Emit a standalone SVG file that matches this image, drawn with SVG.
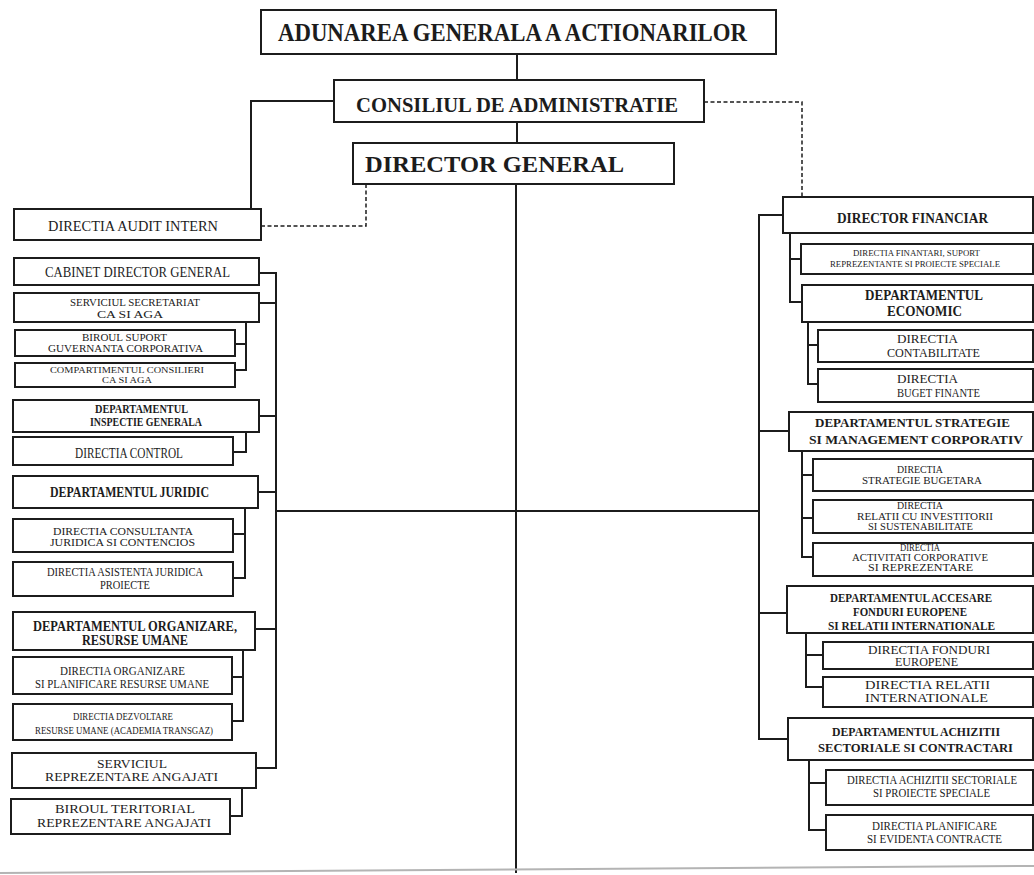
<svg xmlns="http://www.w3.org/2000/svg" width="1034" height="875" viewBox="0 0 1034 875">
<style>
.b{fill:#fff;stroke:#1c1c1c;stroke-width:2}
.ln{fill:none;stroke:#1c1c1c;stroke-width:2}
.ds{fill:none;stroke:#1c1c1c;stroke-width:1.5;stroke-dasharray:4 2.5}
.scan{fill:none;stroke:#b4b4b4;stroke-width:2}
text{font-family:"Liberation Serif","Times New Roman",serif;fill:#1c1c1c;text-anchor:middle}
.bd{font-weight:bold}
</style>
<rect x="0" y="0" width="1034" height="875" fill="#fff"/>
<g id="connectors">
<path class="ln" d="M517 54V80M517 122V143M516 184V873M276 511H759"/>
<path class="ln" d="M334 101H251V209"/>
<path class="ds" d="M261 226H366V184"/>
<path class="ds" d="M704 102H802V197"/>
<path class="ln" d="M259 273H276V768H256M259 303H276M259 416H276M258 492H276M255 629H276"/>
<path class="ln" d="M259 322H246V370H235M235 344H246"/>
<path class="ln" d="M246 432V452H233"/>
<path class="ln" d="M245 508V578H233M233 534H245"/>
<path class="ln" d="M243 650V721H232M232 677H243"/>
<path class="ln" d="M242 788V816H230"/>
<path class="ln" d="M783 215H759V739H788M759 431H789M759 613H787"/>
<path class="ln" d="M790 233V302H802M790 259H801"/>
<path class="ln" d="M808 322V384H818M808 345H818"/>
<path class="ln" d="M802 451V557H813M802 475H813M802 518H813"/>
<path class="ln" d="M806 633V687H823M806 655H823"/>
<path class="ln" d="M809 760V830H826M809 783H826"/>
</g>
<path class="scan" d="M0 873L1034 866"/>
<g id="aga"><rect class="b" x="261" y="10" width="515" height="44"/><text class="bd" x="512.5" y="41" font-size="25" textLength="469" lengthAdjust="spacingAndGlyphs">ADUNAREA GENERALA A ACTIONARILOR</text></g>
<g id="consiliu"><rect class="b" x="334" y="80" width="370" height="42"/><text class="bd" x="517" y="112" font-size="22" textLength="322" lengthAdjust="spacingAndGlyphs">CONSILIUL DE ADMINISTRATIE</text></g>
<g id="dg"><rect class="b" x="353" y="143" width="321" height="41"/><text class="bd" x="494.5" y="172" font-size="22.5" textLength="259" lengthAdjust="spacingAndGlyphs">DIRECTOR GENERAL</text></g>
<g id="audit"><rect class="b" x="14" y="209" width="247" height="31"/><text x="133" y="231" font-size="14" textLength="170" lengthAdjust="spacingAndGlyphs">DIRECTIA AUDIT INTERN</text></g>
<g id="cabinet"><rect class="b" x="14" y="258" width="245" height="27"/><text x="137.5" y="277" font-size="14" textLength="185" lengthAdjust="spacingAndGlyphs">CABINET DIRECTOR GENERAL</text></g>
<g id="secretariat"><rect class="b" x="14" y="293" width="245" height="29"/><text x="135" y="306" font-size="11" textLength="130" lengthAdjust="spacingAndGlyphs">SERVICIUL SECRETARIAT</text><text x="130" y="318" font-size="11" textLength="66" lengthAdjust="spacingAndGlyphs">CA SI AGA</text></g>
<g id="biroul-suport"><rect class="b" x="15" y="330" width="220" height="26"/><text x="124.5" y="341" font-size="10" textLength="85" lengthAdjust="spacingAndGlyphs">BIROUL SUPORT</text><text x="125.5" y="352" font-size="10" textLength="155" lengthAdjust="spacingAndGlyphs">GUVERNANTA CORPORATIVA</text></g>
<g id="consilieri"><rect class="b" x="15" y="363" width="220" height="24"/><text x="127" y="373" font-size="9" textLength="154" lengthAdjust="spacingAndGlyphs">COMPARTIMENTUL CONSILIERI</text><text x="127" y="383" font-size="9" textLength="50" lengthAdjust="spacingAndGlyphs">CA SI AGA</text></g>
<g id="inspectie"><rect class="b" x="13" y="400" width="246" height="32"/><text class="bd" x="141.5" y="413" font-size="12" textLength="93" lengthAdjust="spacingAndGlyphs">DEPARTAMENTUL</text><text class="bd" x="146" y="426" font-size="12" textLength="112" lengthAdjust="spacingAndGlyphs">INSPECTIE GENERALA</text></g>
<g id="control"><rect class="b" x="13" y="437" width="220" height="28"/><text x="129" y="458" font-size="14" textLength="108" lengthAdjust="spacingAndGlyphs">DIRECTIA CONTROL</text></g>
<g id="juridic"><rect class="b" x="13" y="476" width="245" height="32"/><text class="bd" x="129.5" y="497" font-size="14" textLength="159" lengthAdjust="spacingAndGlyphs">DEPARTAMENTUL JURIDIC</text></g>
<g id="consultanta"><rect class="b" x="13" y="519" width="220" height="33"/><text x="123" y="535" font-size="11" textLength="140" lengthAdjust="spacingAndGlyphs">DIRECTIA CONSULTANTA</text><text x="122.5" y="546" font-size="11" textLength="145" lengthAdjust="spacingAndGlyphs">JURIDICA SI CONTENCIOS</text></g>
<g id="asistenta"><rect class="b" x="13" y="562" width="220" height="34"/><text x="125" y="576" font-size="11.5" textLength="156" lengthAdjust="spacingAndGlyphs">DIRECTIA ASISTENTA JURIDICA</text><text x="125" y="589" font-size="11.5" textLength="50" lengthAdjust="spacingAndGlyphs">PROIECTE</text></g>
<g id="organizare"><rect class="b" x="13" y="612" width="242" height="38"/><text class="bd" x="135" y="631" font-size="15" textLength="204" lengthAdjust="spacingAndGlyphs">DEPARTAMENTUL ORGANIZARE,</text><text class="bd" x="135" y="645" font-size="15" textLength="106" lengthAdjust="spacingAndGlyphs">RESURSE UMANE</text></g>
<g id="dir-organizare"><rect class="b" x="13" y="657" width="219" height="37"/><text x="122.5" y="675" font-size="11.5" textLength="125" lengthAdjust="spacingAndGlyphs">DIRECTIA ORGANIZARE</text><text x="122" y="688" font-size="11.5" textLength="174" lengthAdjust="spacingAndGlyphs">SI PLANIFICARE RESURSE UMANE</text></g>
<g id="dezvoltare"><rect class="b" x="13" y="704" width="219" height="36"/><text x="123" y="720" font-size="11" textLength="100" lengthAdjust="spacingAndGlyphs">DIRECTIA DEZVOLTARE</text><text x="124" y="734" font-size="11" textLength="178" lengthAdjust="spacingAndGlyphs">RESURSE UMANE (ACADEMIA TRANSGAZ)</text></g>
<g id="serviciul-repr"><rect class="b" x="12" y="753" width="244" height="35"/><text x="132" y="768" font-size="13" textLength="70" lengthAdjust="spacingAndGlyphs">SERVICIUL</text><text x="131.5" y="781" font-size="13" textLength="173" lengthAdjust="spacingAndGlyphs">REPREZENTARE ANGAJATI</text></g>
<g id="biroul-teritorial"><rect class="b" x="11" y="799" width="219" height="35"/><text x="125" y="813" font-size="13" textLength="140" lengthAdjust="spacingAndGlyphs">BIROUL TERITORIAL</text><text x="124" y="827" font-size="13" textLength="174" lengthAdjust="spacingAndGlyphs">REPREZENTARE ANGAJATI</text></g>
<g id="df"><rect class="b" x="783" y="197" width="250" height="36"/><text class="bd" x="912.5" y="223" font-size="15" textLength="151" lengthAdjust="spacingAndGlyphs">DIRECTOR FINANCIAR</text></g>
<g id="finantari"><rect class="b" x="801" y="244" width="232" height="30"/><text x="916.5" y="256" font-size="9" textLength="127" lengthAdjust="spacingAndGlyphs">DIRECTIA FINANTARI, SUPORT</text><text x="915" y="267" font-size="9" textLength="170" lengthAdjust="spacingAndGlyphs">REPREZENTANTE SI PROIECTE SPECIALE</text></g>
<g id="economic"><rect class="b" x="802" y="285" width="231" height="37"/><text class="bd" x="924" y="300" font-size="15" textLength="118" lengthAdjust="spacingAndGlyphs">DEPARTAMENTUL</text><text class="bd" x="924.5" y="316" font-size="15" textLength="75" lengthAdjust="spacingAndGlyphs">ECONOMIC</text></g>
<g id="contabilitate"><rect class="b" x="818" y="330" width="215" height="32"/><text x="927.5" y="343" font-size="12.5" textLength="61" lengthAdjust="spacingAndGlyphs">DIRECTIA</text><text x="933.5" y="357" font-size="12.5" textLength="93" lengthAdjust="spacingAndGlyphs">CONTABILITATE</text></g>
<g id="buget"><rect class="b" x="818" y="369" width="215" height="33"/><text x="927.5" y="383" font-size="12.5" textLength="61" lengthAdjust="spacingAndGlyphs">DIRECTIA</text><text x="938.5" y="397" font-size="12.5" textLength="83" lengthAdjust="spacingAndGlyphs">BUGET FINANTE</text></g>
<g id="strategie"><rect class="b" x="789" y="412" width="244" height="39"/><text class="bd" x="912.5" y="427" font-size="12.5" textLength="195" lengthAdjust="spacingAndGlyphs">DEPARTAMENTUL STRATEGIE</text><text class="bd" x="916" y="444" font-size="12.5" textLength="214" lengthAdjust="spacingAndGlyphs">SI MANAGEMENT CORPORATIV</text></g>
<g id="strategie-bugetara"><rect class="b" x="813" y="459" width="220" height="32"/><text x="920" y="473" font-size="10" textLength="46" lengthAdjust="spacingAndGlyphs">DIRECTIA</text><text x="922" y="484" font-size="10" textLength="120" lengthAdjust="spacingAndGlyphs">STRATEGIE BUGETARA</text></g>
<g id="investitori"><rect class="b" x="813" y="500" width="220" height="33"/><text x="920" y="509" font-size="10" textLength="46" lengthAdjust="spacingAndGlyphs">DIRECTIA</text><text x="925" y="519.5" font-size="10" textLength="136" lengthAdjust="spacingAndGlyphs">RELATII CU INVESTITORII</text><text x="920.5" y="530" font-size="10" textLength="105" lengthAdjust="spacingAndGlyphs">SI SUSTENABILITATE</text></g>
<g id="activitati"><rect class="b" x="813" y="543" width="220" height="33"/><text x="920" y="551" font-size="9.5" textLength="40" lengthAdjust="spacingAndGlyphs">DIRECTIA</text><text x="920" y="561" font-size="9.5" textLength="136" lengthAdjust="spacingAndGlyphs">ACTIVITATI CORPORATIVE</text><text x="920.5" y="571" font-size="9.5" textLength="105" lengthAdjust="spacingAndGlyphs">SI REPREZENTARE</text></g>
<g id="accesare"><rect class="b" x="787" y="586" width="246" height="47"/><text class="bd" x="911" y="602" font-size="12.5" textLength="162" lengthAdjust="spacingAndGlyphs">DEPARTAMENTUL ACCESARE</text><text class="bd" x="910" y="616" font-size="12.5" textLength="114" lengthAdjust="spacingAndGlyphs">FONDURI EUROPENE</text><text class="bd" x="911.5" y="630" font-size="12.5" textLength="167" lengthAdjust="spacingAndGlyphs">SI RELATII INTERNATIONALE</text></g>
<g id="fonduri"><rect class="b" x="823" y="642" width="210" height="27"/><text x="929" y="654" font-size="12" textLength="122" lengthAdjust="spacingAndGlyphs">DIRECTIA FONDURI</text><text x="926.5" y="666" font-size="12" textLength="63" lengthAdjust="spacingAndGlyphs">EUROPENE</text></g>
<g id="relatii-int"><rect class="b" x="823" y="677" width="210" height="30"/><text x="927.5" y="689" font-size="12.5" textLength="125" lengthAdjust="spacingAndGlyphs">DIRECTIA RELATII</text><text x="926.5" y="702" font-size="12.5" textLength="123" lengthAdjust="spacingAndGlyphs">INTERNATIONALE</text></g>
<g id="achizitii"><rect class="b" x="788" y="718" width="245" height="42"/><text class="bd" x="916" y="736" font-size="13" textLength="168" lengthAdjust="spacingAndGlyphs">DEPARTAMENTUL ACHIZITII</text><text class="bd" x="915.5" y="752" font-size="13" textLength="195" lengthAdjust="spacingAndGlyphs">SECTORIALE SI CONTRACTARI</text></g>
<g id="achizitii-sectoriale"><rect class="b" x="826" y="770" width="207" height="35"/><text x="932" y="784" font-size="11.5" textLength="170" lengthAdjust="spacingAndGlyphs">DIRECTIA ACHIZITII SECTORIALE</text><text x="931.5" y="797" font-size="11.5" textLength="117" lengthAdjust="spacingAndGlyphs">SI PROIECTE SPECIALE</text></g>
<g id="planificare"><rect class="b" x="826" y="815" width="207" height="35"/><text x="934.5" y="830" font-size="11.5" textLength="125" lengthAdjust="spacingAndGlyphs">DIRECTIA PLANIFICARE</text><text x="934.5" y="843" font-size="11.5" textLength="135" lengthAdjust="spacingAndGlyphs">SI EVIDENTA CONTRACTE</text></g>
</svg>
